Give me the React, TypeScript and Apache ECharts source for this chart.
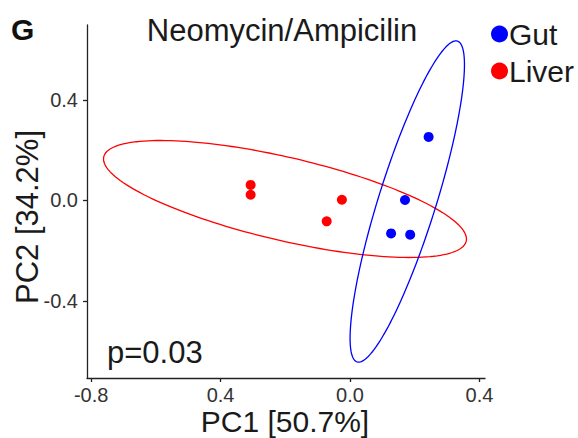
import React, { useEffect, useRef } from "react";
import * as echarts from "echarts";

const gutX = [0.243, 0.17, 0.127, 0.186];
const gutY = [0.253, 0.002, -0.131, -0.136];
const liverX = [-0.307, -0.307, -0.025, -0.072];
const liverY = [0.062, 0.023, 0.003, -0.083];

// confidence ellipses: centre and two conjugate semi-axis vectors (data units)
const gutEllipseCenter = [0.177, -0.004];
const gutEllipseAxisA = [0.1551, 0.6384];
const gutEllipseAxisB = [0.0847, -0.0341];
const liverEllipseCenter = [-0.2009, 0.006];
const liverEllipseAxisA = [0.56, -0.168];
const liverEllipseAxisB = [-0.0291, -0.1612];

const xTicks = [-0.8, -0.4, 0, 0.4];
const xTickLabels = ["-0.8", "0.4", "0.0", "0.4"];
const yTicks = [-0.4, 0, 0.4];
const yTickLabels = ["-0.4", "0.0", "0.4"];

const FONT = "Liberation Sans, Arial, sans-serif";

function ellipseSeries(name: string, center: number[], a: number[], b: number[], color: string) {
  return {
    type: "custom",
    name: name + " ellipse",
    silent: true,
    data: [[center[0], center[1]]],
    encode: { x: 0, y: 1 },
    z: 1,
    renderItem: (params: any, api: any) => {
      const pts: number[][] = [];
      const n = 180;
      for (let i = 0; i < n; i++) {
        const t = (i / n) * Math.PI * 2;
        const c = Math.cos(t);
        const s = Math.sin(t);
        pts.push(api.coord([center[0] + a[0] * c + b[0] * s, center[1] + a[1] * c + b[1] * s]));
      }
      return {
        type: "polygon",
        shape: { points: pts },
        style: { fill: "none", stroke: color, lineWidth: 1.3 },
      };
    },
  };
}

export default function App() {
  const ref = useRef<HTMLDivElement>(null);
  useEffect(() => {
    if (!ref.current) return;
    const chart = echarts.init(ref.current, null, { renderer: "svg" });
    chart.setOption({
      animation: false,
      backgroundColor: "#fff",
      grid: { left: 87, right: 93, top: 25, bottom: 60 },
      xAxis: {
        type: "value",
        min: -0.8127,
        max: 0.4172,
        splitLine: { show: false },
        axisLine: { show: true, onZero: false, lineStyle: { color: "#222", width: 1.3 } },
        axisTick: { show: true, length: 4, customValues: xTicks, lineStyle: { color: "#222", width: 1.3 } },
        axisLabel: {
          customValues: xTicks,
          margin: 7,
          fontSize: 20,
          fontFamily: FONT,
          color: "#333",
          formatter: (v: number) => {
            const i = xTicks.findIndex((t) => Math.abs(t - v) < 1e-6);
            return i >= 0 ? xTickLabels[i] : "";
          },
        },
      },
      yAxis: {
        type: "value",
        min: -0.7065,
        max: 0.6985,
        splitLine: { show: false },
        axisLine: { show: true, onZero: false, lineStyle: { color: "#222", width: 1.3 } },
        axisTick: { show: true, length: 4, customValues: yTicks, lineStyle: { color: "#222", width: 1.3 } },
        axisLabel: {
          customValues: yTicks,
          margin: 9,
          fontSize: 20,
          fontFamily: FONT,
          color: "#333",
          formatter: (v: number) => {
            const i = yTicks.findIndex((t) => Math.abs(t - v) < 1e-6);
            return i >= 0 ? yTickLabels[i] : "";
          },
        },
      },
      legend: {
        orient: "vertical",
        left: 486,
        top: 14,
        icon: "circle",
        itemWidth: 17,
        itemHeight: 17,
        itemGap: 7,
        data: ["Gut", "Liver"],
        textStyle: { fontSize: 30, fontFamily: FONT, color: "#1a1a1a", padding: [0, 0, 0, -4] },
      },
      graphic: [
        { type: "text", left: 11, top: 14, style: { text: "G", font: `bold 30px ${FONT}`, fill: "#111" } },
        {
          type: "text",
          x: 282,
          y: 30,
          style: { text: "Neomycin/Ampicilin", font: `31px ${FONT}`, fill: "#1a1a1a", textAlign: "center", textVerticalAlign: "middle" },
        },
        {
          type: "text",
          x: 107,
          y: 352,
          style: { text: "p=0.03", font: `31px ${FONT}`, fill: "#1a1a1a", textAlign: "left", textVerticalAlign: "middle" },
        },
        {
          type: "text",
          x: 285,
          y: 421,
          style: { text: "PC1 [50.7%]", font: `30px ${FONT}`, fill: "#1a1a1a", textAlign: "center", textVerticalAlign: "middle" },
        },
        {
          type: "text",
          x: 27,
          y: 217,
          rotation: Math.PI / 2,
          style: { text: "PC2 [34.2%]", font: `31px ${FONT}`, fill: "#1a1a1a", textAlign: "center", textVerticalAlign: "middle" },
        },
      ],
      series: [
        ellipseSeries("Liver", liverEllipseCenter, liverEllipseAxisA, liverEllipseAxisB, "#ff0000"),
        ellipseSeries("Gut", gutEllipseCenter, gutEllipseAxisA, gutEllipseAxisB, "#0000ff"),
        {
          type: "scatter",
          name: "Gut",
          symbol: "circle",
          symbolSize: 10,
          itemStyle: { color: "#0000ff", opacity: 1 },
          z: 3,
          data: gutX.map((x, i) => [x, gutY[i]]),
        },
        {
          type: "scatter",
          name: "Liver",
          symbol: "circle",
          symbolSize: 10,
          itemStyle: { color: "#ff0000", opacity: 1 },
          z: 3,
          data: liverX.map((x, i) => [x, liverY[i]]),
        },
      ],
    });
    return () => chart.dispose();
  }, []);
  return <div ref={ref} style={{ width: 578, height: 438, position: "absolute", left: 0, top: 0 }} />;
}
